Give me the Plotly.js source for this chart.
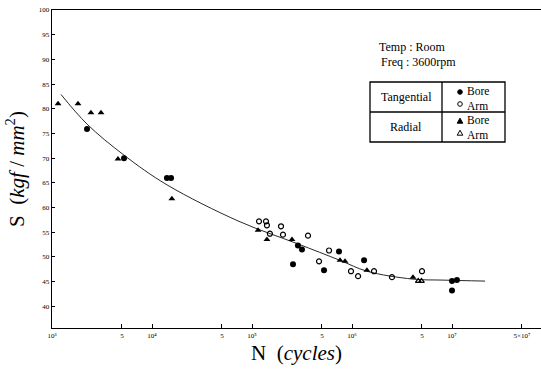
<!DOCTYPE html>
<html>
<head>
<meta charset="utf-8">
<script src="https://cdn.plot.ly/plotly-3.0.1.min.js"></script>
<style>html,body{margin:0;padding:0;background:#fff;}#chart{width:541px;height:381px;}</style>
</head>
<body>
<div id="chart"></div>
<script>
// Tangential, Bore (filled circles)
const tanBoreN = [2240, 5250, 14100, 15500, 288000, 316000, 257000, 525000, 741000, 1320000, 10000000, 11200000, 10000000];
const tanBoreS = [75.9, 70.0, 66.0, 66.0, 52.3, 51.5, 48.5, 47.3, 51.1, 49.3, 45.1, 45.3, 43.2];
// Tangential, Arm (open circles)
const tanArmN = [117500, 138000, 141000, 195000, 151000, 204000, 363000, 589000, 468000, 977000, 1150000, 1660000, 2510000, 5010000];
const tanArmS = [57.2, 57.2, 56.4, 56.2, 54.7, 54.5, 54.3, 51.3, 49.1, 47.1, 46.1, 47.1, 45.9, 47.1];
// Radial, Bore (filled triangles)
const radBoreN = [1150, 1820, 2450, 3090, 4570, 15800, 115000, 141000, 251000, 759000, 851000, 1410000, 4070000];
const radBoreS = [81.0, 81.0, 79.2, 79.2, 69.8, 61.8, 55.4, 53.5, 53.5, 49.3, 49.1, 47.3, 45.9];
// Radial, Arm (open triangles)
const radArmN = [4600000, 4950000];
const radArmS = [45.1, 45.1];
// Fitted S-N curve
const curveN = [1230, 2240, 5250, 14100, 74100, 282000, 759000, 1410000, 4070000, 8130000, 21400000];
const curveS = [82.9, 76.9, 70.6, 64.6, 57.2, 52.7, 49.3, 47.1, 45.5, 45.3, 45.1];
// Axis ticks
const xTickVals = [1e3, 5e3, 1e4, 5e4, 1e5, 5e5, 1e6, 5e6, 1e7, 5e7];
const xTickText = ["10³", "5", "10⁴", "5", "10⁵", "5", "10⁶", "5", "10⁷", "5×10⁷"];
const yTickVals = [40, 45, 50, 55, 60, 65, 70, 75, 80, 85, 90, 95, 100];

const serif = "Liberation Serif, DejaVu Serif, serif";

const traces = [
  {x: curveN, y: curveS, mode: "lines", name: "S-N curve",
   line: {color: "#111", width: 0.9, shape: "spline", smoothing: 1.0}, hoverinfo: "skip"},
  {x: tanBoreN, y: tanBoreS, mode: "markers", name: "Tangential Bore",
   marker: {symbol: "circle", size: 6, color: "#000"}},
  {x: tanArmN, y: tanArmS, mode: "markers", name: "Tangential Arm",
   marker: {symbol: "circle-open", size: 5, color: "#000", line: {width: 1.2}}},
  {x: radBoreN, y: radBoreS, mode: "markers", name: "Radial Bore",
   marker: {symbol: "triangle-up", size: 6, color: "#000"}},
  {x: radArmN, y: radArmS, mode: "markers", name: "Radial Arm",
   marker: {symbol: "triangle-up-open", size: 5, color: "#000", line: {width: 1.2}}}
];

function px(x) { return (x - 52) / 489; }
function py(y) { return (328 - y) / 318; }

const lw = {color: "#000", width: 1.3};
function circ(cx, cy, filled) {
  return {type: "circle", xref: "paper", yref: "paper", x0: px(cx - 2.3), x1: px(cx + 2.3),
    y0: py(cy + 2.3), y1: py(cy - 2.3), line: {color: "#000", width: 1},
    fillcolor: filled ? "#000" : "rgba(0,0,0,0)"};
}
function tri(cx, cy, filled) {
  const p = "M" + px(cx - 2.8) + "," + py(cy + 2.2) + " L" + px(cx + 2.8) + "," + py(cy + 2.2) +
            " L" + px(cx) + "," + py(cy - 2.8) + " Z";
  return {type: "path", xref: "paper", yref: "paper", path: p, line: {color: "#000", width: 1},
    fillcolor: filled ? "#000" : "rgba(0,0,0,0)"};
}
const shapes = [
  {type: "rect", xref: "paper", yref: "paper", x0: px(370), x1: px(505), y0: py(142), y1: py(82), line: lw},
  {type: "line", xref: "paper", yref: "paper", x0: px(370), x1: px(505), y0: py(112), y1: py(112), line: lw},
  {type: "line", xref: "paper", yref: "paper", x0: px(442), x1: px(442), y0: py(142), y1: py(82), line: lw},
  circ(460, 92, true), circ(460, 104, false), tri(460, 121, true), tri(460, 133, false)
];

const tf = {family: serif, size: 12, color: "#000"};
function ann(text, x, y, xanchor, extra) {
  return Object.assign({text: text, xref: "paper", yref: "paper", x: px(x), y: py(y),
    xanchor: xanchor, yanchor: "middle", showarrow: false, font: tf}, extra || {});
}
const annotations = [
  ann("Temp : Room", 377, 47, "left"),
  ann("Freq : 3600rpm", 379, 62, "left"),
  ann("Tangential", 406, 97, "center"),
  ann("Radial", 406, 127, "center"),
  ann("Bore<br>Arm", 465, 98, "left", {align: "left", font: {family: serif, size: 11.5, color: "#000"}}),
  ann("Bore<br>Arm", 465, 127, "left", {align: "left", font: {family: serif, size: 11.5, color: "#000"}})
];

const layout = {
  width: 541, height: 381,
  margin: {l: 52, r: 0, t: 10, b: 53},
  paper_bgcolor: "#fff", plot_bgcolor: "#fff",
  showlegend: false,
  font: {family: serif, color: "#000"},
  xaxis: {
    type: "log", range: [3, Math.log10(7.76e7)],
    tickvals: xTickVals, ticktext: xTickText,
    ticks: "inside", ticklen: 4, tickwidth: 1, tickcolor: "#000",
    tickfont: {family: serif, size: 7, color: "#000"},
    showline: true, linecolor: "#000", linewidth: 1.3, mirror: true,
    showgrid: false, zeroline: false,
    title: {text: "N  (<i>cycles</i>)", font: {family: serif, size: 21, color: "#000"}, standoff: 6}
  },
  yaxis: {
    range: [35.6, 100],
    tickvals: yTickVals,
    ticks: "inside", ticklen: 3, tickwidth: 1, tickcolor: "#000",
    tickfont: {family: serif, size: 7, color: "#000"},
    showline: true, linecolor: "#000", linewidth: 1.3,
    showgrid: false, zeroline: false,
    title: {text: "S  (<i>kgf</i> / <i>mm</i><sup>2</sup>)", font: {family: serif, size: 21, color: "#000"}, standoff: 8}
  },
  shapes: shapes,
  annotations: annotations
};

Plotly.newPlot("chart", traces, layout, {displayModeBar: false, staticPlot: true});
</script>
</body>
</html>
